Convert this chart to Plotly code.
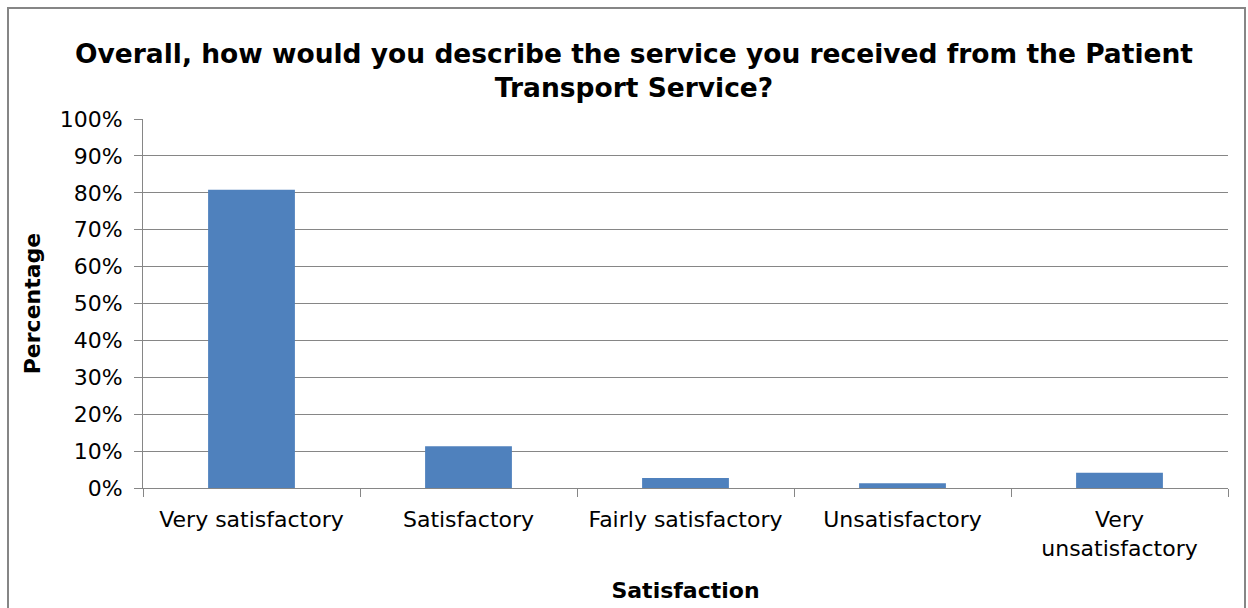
import plotly.graph_objects as go

categories = ["Very satisfactory", "Satisfactory", "Fairly satisfactory", "Unsatisfactory", "Very<br>unsatisfactory"]
values = [80.8, 11.3, 2.7, 1.3, 4.1]
y_ticks = [0, 10, 20, 30, 40, 50, 60, 70, 80, 90, 100]
y_tick_labels = [f"{v}%" for v in y_ticks]

W, H = 1248, 608
L, R, T, B = 143, 20, 119, 120
pw, ph = W - L - R, H - T - B

fig = go.Figure(go.Bar(x=categories, y=values, marker=dict(color="#4F81BD", line=dict(width=0))))

font = "DejaVu Sans, Arial, sans-serif"
fig.update_layout(
    width=W, height=H,
    margin=dict(l=L, r=R, t=T, b=B, autoexpand=False),
    paper_bgcolor="white", plot_bgcolor="white",
    bargap=0.6,
    showlegend=False,
    font=dict(family=font, color="black", size=22),
    title=dict(
        text="<b>Overall, how would you describe the service you received from the Patient<br>Transport Service?</b>",
        x=634 / W, xanchor="center", y=1 - 63 / H, yanchor="middle",
        font=dict(size=26.5, family=font, color="black"),
    ),
    xaxis=dict(
        tickson="boundaries", ticks="outside", ticklen=8, tickcolor="#868686",
        showline=True, linecolor="#868686", linewidth=1, showgrid=False,
        ticklabelstandoff=12,
        tickfont=dict(size=22), title=dict(text="<b>Satisfaction</b>", font=dict(size=22), standoff=22),
    ),
    yaxis=dict(
        range=[0, 100], tickvals=y_ticks, ticktext=y_tick_labels,
        ticks="outside", ticklen=8, tickcolor="#868686",
        showline=True, linecolor="#868686", linewidth=1,
        showgrid=True, gridcolor="#868686", gridwidth=1,
        ticklabelstandoff=7,
        tickfont=dict(size=22), title=dict(text="<b>Percentage</b>", font=dict(size=22), standoff=12),
        zeroline=False,
    ),
)

fig.add_shape(type="rect", xref="paper", yref="paper",
              x0=(8 - L) / pw, x1=(1245 - L) / pw,
              y0=-1.0, y1=(T + ph - 8) / ph,
              line=dict(color="#868686", width=2), fillcolor="rgba(0,0,0,0)", layer="below")

fig.write_html("out.html")
